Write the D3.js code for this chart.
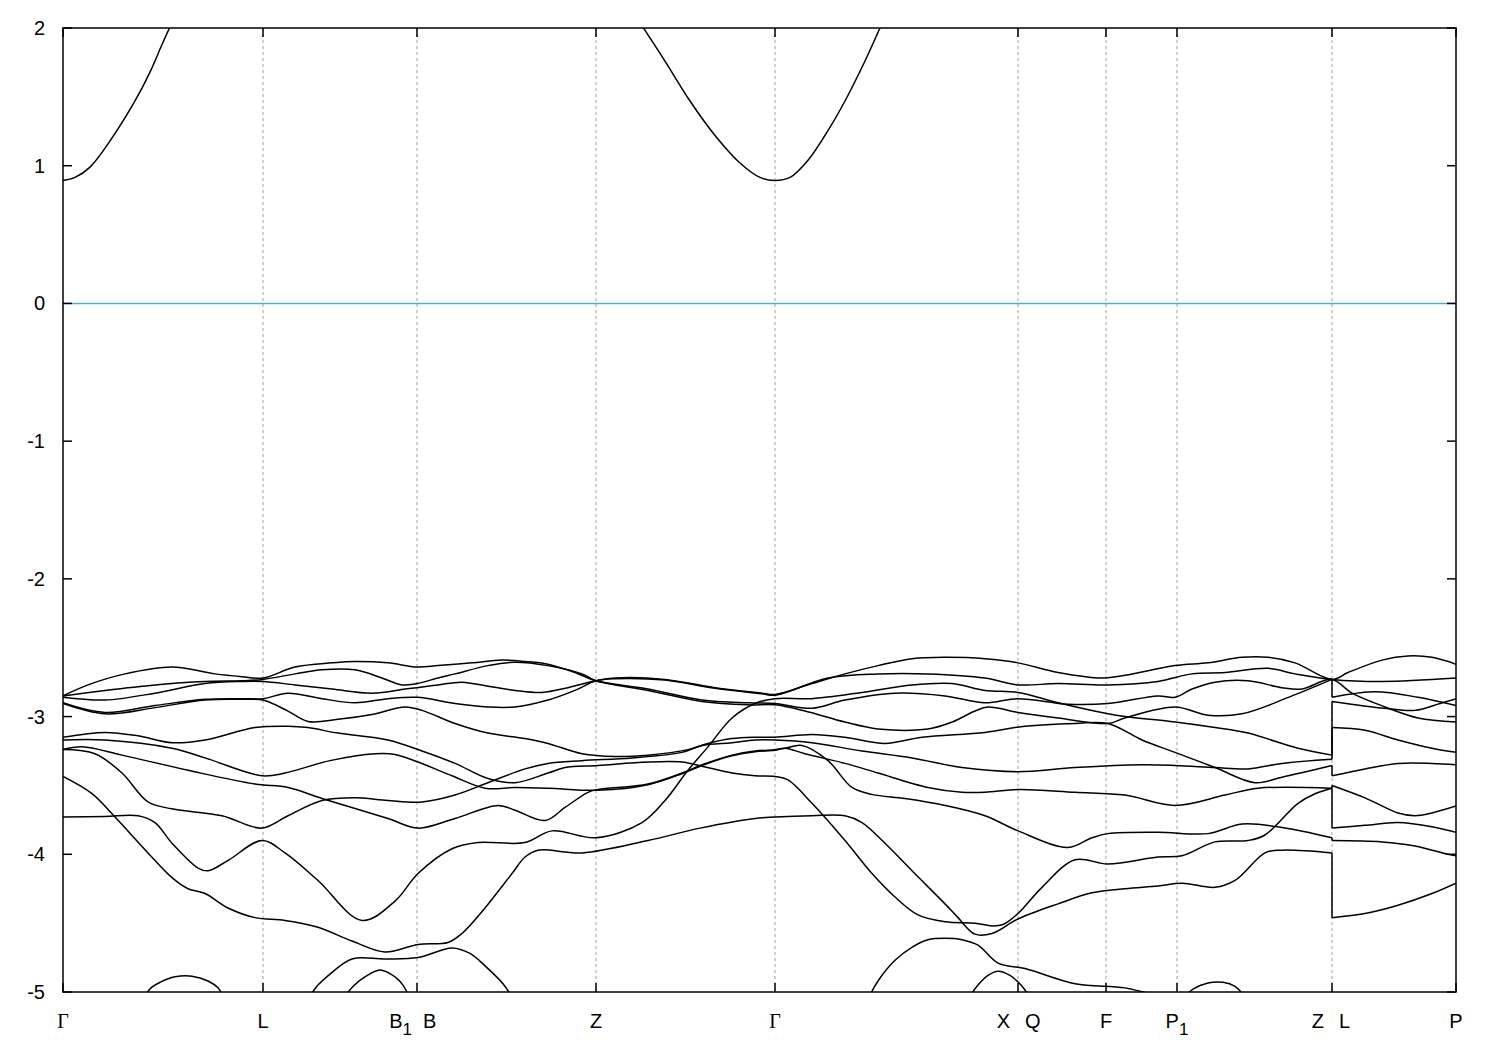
<!DOCTYPE html>
<html><head><meta charset="utf-8">
<script src="https://cdn.jsdelivr.net/npm/d3@7"></script>
<style>
html,body{margin:0;padding:0;background:#fff;}
svg{display:block;}
</style></head>
<body>
<svg id="chart" width="1500" height="1050"></svg>
<script>
// ---- high-symmetry path ----
const kTicks = [0, 200, 354, 533, 712, 955, 1043, 1114, 1269, 1393];
// each label: [left part, left subscript, right part]
const kLabels = [["Γ","",""], ["L","",""], ["B","1","B"], ["Z","",""], ["Γ","",""], ["X","","Q"], ["F","",""], ["P","1",""], ["Z","","L"], ["P","",""]];
const yTicks = [-5, -4, -3, -2, -1, 0, 1, 2];
const fermiLevel = 0;

// ---- conduction bands ----
const cond1 = [[0,0.893],[12,0.915],[27,0.99],[47,1.18],[72,1.47],[87,1.68],[99,1.88],[109,2.04]];
const cond2 = [[575,2.06],[585,1.95],[602,1.76],[627,1.47],[652,1.22],[677,1.02],[697,0.915],[712,0.893],[727,0.915],[745,1.04],[762,1.22],[782,1.47],[802,1.76],[817,2.0],[821,2.06]];

// ---- valence bands ----
const band1 = [[0,-2.85],[25,-2.77],[62,-2.69],[109,-2.64],[152,-2.69],[179,-2.71],[200,-2.72],[232,-2.64],[269,-2.61],[292,-2.60],[325,-2.61],[354,-2.64],[375,-2.63],[409,-2.61],[439,-2.59],[462,-2.60],[485,-2.62],[512,-2.68],[533,-2.74],[585,-2.80],[639,-2.88],[685,-2.90],[712,-2.905],
 [749,-2.94],[782,-2.88],[832,-2.83],[882,-2.85],[922,-2.90],[955,-2.87],[1005,-2.91],[1045,-2.905],[1095,-2.85],[1112,-2.86],[1129,-2.80],[1152,-2.75],[1185,-2.74],[1219,-2.79],[1239,-2.80],[1269,-2.73],
 [1289,-2.83],[1322,-2.93],[1355,-3.01],[1393,-3.04]];
const band2 = [[0,-2.85],[42,-2.81],[92,-2.77],[142,-2.745],[179,-2.74],[200,-2.73],[232,-2.69],[259,-2.66],[292,-2.66],[319,-2.72],[339,-2.77],[354,-2.76],[375,-2.72],[392,-2.69],[425,-2.63],[452,-2.605],[485,-2.63],[519,-2.69],[533,-2.74],[585,-2.81],[639,-2.89],[685,-2.915],[712,-2.915],
 [742,-2.96],[782,-3.04],[815,-3.09],[865,-3.09],[889,-3.04],[912,-2.96],[925,-2.93],[955,-2.97],[995,-3.01],[1045,-3.05],[1062,-3.01],[1112,-2.93],[1145,-2.99],[1179,-2.98],[1229,-2.85],[1269,-2.73],
 [1269,-2.86],[1312,-2.82],[1355,-2.86],[1393,-2.92]];
const band3 = [[0,-2.86],[42,-2.88],[92,-2.83],[142,-2.76],[179,-2.745],[200,-2.745],[232,-2.77],[269,-2.80],[309,-2.83],[342,-2.80],[354,-2.79],[375,-2.77],[399,-2.75],[425,-2.78],[452,-2.81],[479,-2.825],[505,-2.79],[533,-2.74],[552,-2.72],[602,-2.73],[652,-2.79],[699,-2.83],[712,-2.84],
 [749,-2.76],[782,-2.69],[815,-2.63],[849,-2.58],[882,-2.57],[922,-2.58],[955,-2.61],[995,-2.68],[1039,-2.72],[1062,-2.70],[1112,-2.63],[1145,-2.61],[1179,-2.57],[1205,-2.57],[1232,-2.61],[1269,-2.73],
 [1285,-2.68],[1319,-2.59],[1345,-2.56],[1369,-2.57],[1393,-2.62]];
const band4 = [[0,-2.90],[42,-2.97],[92,-2.92],[142,-2.875],[179,-2.87],[200,-2.87],[225,-2.83],[259,-2.87],[292,-2.90],[325,-2.87],[354,-2.86],[392,-2.905],[425,-2.93],[452,-2.93],[485,-2.88],[512,-2.81],[533,-2.74],[552,-2.725],[602,-2.735],[652,-2.795],[699,-2.835],[712,-2.845],
 [765,-2.72],[815,-2.69],[865,-2.69],[922,-2.72],[955,-2.77],[995,-2.76],[1045,-2.77],[1095,-2.745],[1129,-2.69],[1162,-2.68],[1205,-2.65],[1232,-2.69],[1269,-2.73],
 [1319,-2.745],[1393,-2.72]];
const band5 = [[0,-3.73],[42,-3.725],[75,-3.72],[92,-3.77],[109,-3.92],[135,-4.10],[145,-4.12],[165,-4.045],[199,-3.90],[222,-3.99],[255,-4.19],[299,-4.48],[332,-4.34],[355,-4.14],[389,-3.96],[415,-3.915],[462,-3.915],[489,-3.83],[533,-3.88],[579,-3.77],[602,-3.61],[625,-3.39],[645,-3.22],[669,-3.01],[692,-2.905],[712,-2.87],
 [749,-2.87],[799,-2.825],[849,-2.77],[889,-2.76],[922,-2.81],[955,-2.825],[995,-2.90],[1045,-2.98],[1062,-3.00],[1112,-3.04],[1152,-3.08],[1185,-3.12],[1235,-3.23],[1269,-3.28],
 [1269,-2.89],[1322,-2.94],[1352,-2.955],[1377,-2.905],[1393,-2.87]];
const band6 = [[0,-2.905],[42,-2.98],[92,-2.935],[142,-2.88],[179,-2.875],[200,-2.88],[225,-2.96],[245,-3.035],[275,-3.02],[309,-2.985],[342,-2.93],[359,-2.955],[392,-3.05],[425,-3.12],[462,-3.16],[485,-3.195],[519,-3.27],[552,-3.29],[585,-3.28],[625,-3.24],[645,-3.195],[669,-3.16],[692,-3.15],[712,-3.15],
 [749,-3.13],[782,-3.15],[822,-3.195],[859,-3.15],[922,-3.115],[962,-3.07],[1012,-3.05],[1045,-3.05],[1079,-3.17],[1112,-3.26],[1152,-3.37],[1192,-3.48],[1219,-3.44],[1269,-3.355],
 [1269,-3.43],[1302,-3.38],[1335,-3.34],[1369,-3.34],[1393,-3.35]];
const band7 = [[0,-3.24],[32,-3.27],[59,-3.41],[85,-3.62],[109,-3.67],[159,-3.72],[199,-3.81],[225,-3.72],[259,-3.61],[292,-3.59],[325,-3.61],[359,-3.62],[392,-3.57],[425,-3.48],[462,-3.38],[485,-3.34],[519,-3.32],[569,-3.30],[619,-3.26],[639,-3.21],[669,-3.19],[692,-3.17],[712,-3.17],
 [749,-3.19],[799,-3.25],[849,-3.30],[899,-3.37],[955,-3.40],[1012,-3.37],[1079,-3.35],[1112,-3.355],[1152,-3.37],[1185,-3.38],[1219,-3.34],[1269,-3.31],
 [1269,-3.08],[1302,-3.10],[1335,-3.17],[1369,-3.23],[1393,-3.26]];
const band8 = [[0,-3.15],[42,-3.115],[75,-3.14],[109,-3.19],[142,-3.17],[192,-3.08],[225,-3.07],[245,-3.08],[275,-3.12],[325,-3.17],[359,-3.25],[392,-3.34],[425,-3.45],[452,-3.48],[485,-3.41],[502,-3.37],[535,-3.355],[585,-3.33],[619,-3.33],[639,-3.36],[669,-3.41],[692,-3.43],[712,-3.435],
 [725,-3.46],[749,-3.63],[782,-3.90],[809,-4.14],[832,-4.31],[855,-4.44],[882,-4.49],[912,-4.50],[929,-4.52],[940,-4.51],[955,-4.43],[979,-4.24],[1012,-4.04],[1045,-4.07],[1095,-4.02],[1119,-4.01],[1152,-3.91],[1185,-3.90],[1202,-3.86],[1235,-3.63],[1252,-3.56],[1269,-3.52],
 [1269,-3.81],[1302,-3.79],[1335,-3.77],[1369,-3.80],[1393,-3.84]];
const band9 = [[0,-3.24],[19,-3.22],[59,-3.28],[125,-3.39],[192,-3.49],[225,-3.515],[259,-3.595],[325,-3.74],[355,-3.81],[392,-3.74],[435,-3.645],[452,-3.68],[482,-3.755],[502,-3.66],[525,-3.55],[535,-3.53],[585,-3.49],[619,-3.41],[639,-3.35],[669,-3.28],[692,-3.25],[712,-3.24],
 [722,-3.23],[739,-3.21],[765,-3.32],[789,-3.515],[809,-3.565],[842,-3.595],[882,-3.645],[922,-3.72],[955,-3.83],[1005,-3.95],[1029,-3.88],[1045,-3.85],[1095,-3.84],[1145,-3.85],[1179,-3.78],[1219,-3.805],[1269,-3.88],
 [1269,-3.90],[1319,-3.91],[1352,-3.94],[1385,-4.00],[1393,-4.01]];
const band10 = [[0,-3.17],[42,-3.17],[109,-3.23],[142,-3.30],[199,-3.43],[222,-3.41],[267,-3.32],[312,-3.27],[332,-3.275],[355,-3.33],[389,-3.43],[422,-3.52],[452,-3.515],[485,-3.52],[535,-3.535],[585,-3.495],[619,-3.415],[639,-3.355],[669,-3.285],[692,-3.255],[712,-3.245],
 [722,-3.23],[742,-3.27],[782,-3.34],[815,-3.41],[865,-3.515],[899,-3.55],[922,-3.55],[955,-3.53],[1012,-3.55],[1062,-3.57],[1112,-3.645],[1162,-3.57],[1195,-3.52],[1269,-3.52],
 [1269,-3.50],[1302,-3.59],[1335,-3.70],[1352,-3.72],[1369,-3.70],[1393,-3.65]];
const band11 = [[0,-3.435],[29,-3.56],[52,-3.73],[85,-3.99],[109,-4.17],[125,-4.25],[142,-4.285],[165,-4.39],[192,-4.46],[222,-4.48],[255,-4.53],[289,-4.63],[322,-4.71],[355,-4.655],[385,-4.64],[399,-4.575],[422,-4.39],[449,-4.14],[462,-4.02],[475,-3.97],[519,-3.99],[585,-3.90],[637,-3.81],[692,-3.74],[712,-3.73],
 [749,-3.72],[782,-3.72],[799,-3.77],[822,-3.92],[849,-4.12],[882,-4.36],[895,-4.46],[912,-4.58],[929,-4.575],[955,-4.47],[995,-4.36],[1029,-4.28],[1062,-4.25],[1095,-4.23],[1119,-4.21],[1152,-4.24],[1172,-4.19],[1202,-3.99],[1219,-3.97],[1269,-3.99],
 [1269,-4.46],[1302,-4.43],[1335,-4.37],[1369,-4.285],[1393,-4.21]];

// ---- deeper bands entering the window from below ----
const deep1 = [[80,-5.05],[88,-4.97],[97,-4.93],[112,-4.89],[129,-4.885],[145,-4.92],[155,-4.97],[161,-5.05]];
const deep2 = [[245,-5.05],[255,-4.95],[267,-4.87],[289,-4.76],[322,-4.76],[355,-4.75],[389,-4.68],[407,-4.72],[422,-4.81],[440,-4.94],[450,-5.05]];
const deep3 = [[280,-5.05],[290,-4.96],[300,-4.90],[317,-4.84],[332,-4.89],[340,-4.95],[347,-5.05]];
const deep4 = [[805,-5.05],[815,-4.92],[832,-4.77],[850,-4.67],[865,-4.62],[882,-4.61],[899,-4.62],[915,-4.66],[935,-4.79],[962,-4.83],[1012,-4.94],[1062,-4.97],[1090,-5.02]];
const deep5 = [[905,-5.05],[915,-4.95],[925,-4.88],[935,-4.85],[947,-4.88],[958,-4.95],[968,-5.05]];
const deep6 = [[1120,-5.05],[1130,-4.98],[1145,-4.935],[1160,-4.93],[1172,-4.96],[1184,-5.05]];

const allBands = [cond1, cond2, band1, band2, band3, band4, band5, band6, band7, band8, band9, band10, band11, deep1, deep2, deep3, deep4, deep5, deep6];

// ---- drawing ----
const W = 1500, H = 1050;
const margin = {left: 63, right: 44, top: 28, bottom: 58};
const SANS = "'Liberation Sans', Arial, sans-serif";
const SERIF = "'Liberation Serif', 'DejaVu Serif', serif";
const svg = d3.select("#chart");
const x = d3.scaleLinear().domain([0, 1393]).range([margin.left, W - margin.right]);
const y = d3.scaleLinear().domain([-5, 2]).range([H - margin.bottom, margin.top]);
const x0 = x.range()[0], x1 = x.range()[1], y0 = y.range()[0], y1 = y.range()[1];

svg.append("rect").attr("width", W).attr("height", H).attr("fill", "#fff");

svg.append("defs").append("clipPath").attr("id", "plotclip")
  .append("rect").attr("x", x0).attr("y", y1).attr("width", x1 - x0).attr("height", y0 - y1);

// vertical dotted grid lines at interior points
svg.append("g").selectAll("line").data(kTicks.slice(1, -1)).join("line")
  .attr("x1", d => x(d)).attr("x2", d => x(d))
  .attr("y1", y1).attr("y2", y0)
  .attr("stroke", "#a0a0a0").attr("stroke-width", 1).attr("stroke-dasharray", "3,3");

// Fermi level
svg.append("line").attr("x1", x0).attr("x2", x1).attr("y1", y(fermiLevel)).attr("y2", y(fermiLevel))
  .attr("stroke", "#4aaee6").attr("stroke-width", 1.5);

// bands: split at vertical jumps (repeated k)
const g = svg.append("g").attr("clip-path", "url(#plotclip)");
const curve = d3.line().x(d => x(d[0])).y(d => y(d[1])).curve(d3.curveCatmullRom.alpha(0.5));
const straight = d3.line().x(d => x(d[0])).y(d => y(d[1]));
function drawPath(gen, pts) {
  g.append("path").attr("d", gen(pts)).attr("fill", "none").attr("stroke", "#000").attr("stroke-width", 1.5);
}
allBands.forEach(b => {
  let piece = [b[0]];
  for (let i = 1; i < b.length; i++) {
    if (b[i][0] === b[i - 1][0]) {
      if (piece.length > 1) drawPath(curve, piece);
      drawPath(straight, [b[i - 1], b[i]]);
      piece = [b[i]];
    } else piece.push(b[i]);
  }
  if (piece.length > 1) drawPath(curve, piece);
});

// frame
svg.append("rect").attr("x", x0).attr("y", y1).attr("width", x1 - x0).attr("height", y0 - y1)
  .attr("fill", "none").attr("stroke", "#000").attr("stroke-width", 1.5);

// y ticks (left and mirrored right)
const tk = 9;
const yt = svg.append("g");
yTicks.forEach(v => {
  yt.append("line").attr("x1", x0).attr("x2", x0 + tk).attr("y1", y(v)).attr("y2", y(v)).attr("stroke", "#000").attr("stroke-width", 1.5);
  yt.append("line").attr("x1", x1).attr("x2", x1 - tk).attr("y1", y(v)).attr("y2", y(v)).attr("stroke", "#000").attr("stroke-width", 1.5);
  yt.append("text").attr("x", 45).attr("y", y(v)).attr("dy", "0.35em").attr("text-anchor", "end")
    .style("font-family", SANS).attr("font-size", 20).text(v);
});

// x ticks (bottom and top) + labels
const xt = svg.append("g");
kTicks.forEach((k, i) => {
  const px = x(k);
  xt.append("line").attr("x1", px).attr("x2", px).attr("y1", y0).attr("y2", y0 - tk).attr("stroke", "#000").attr("stroke-width", 1.5);
  xt.append("line").attr("x1", px).attr("x2", px).attr("y1", y1).attr("y2", y1 + tk).attr("stroke", "#000").attr("stroke-width", 1.5);
  const [main, sub, right] = kLabels[i];
  const fam = main === "Γ" ? SERIF : SANS;
  if (!right) {
    const t = xt.append("text").attr("x", px).attr("y", 1028).attr("text-anchor", "middle")
      .style("font-family", fam).attr("font-size", 20);
    t.append("tspan").text(main);
    if (sub) t.append("tspan").attr("font-size", 17).attr("dy", 7).text(sub);
  } else {
    const t = xt.append("text").attr("x", px - (sub ? 5 : 8)).attr("y", 1028).attr("text-anchor", "end")
      .style("font-family", fam).attr("font-size", 20);
    t.append("tspan").text(main);
    if (sub) t.append("tspan").attr("font-size", 17).attr("dy", 7).text(sub);
    xt.append("text").attr("x", px + (sub ? 6 : 7)).attr("y", 1028).attr("text-anchor", "start")
      .style("font-family", SANS).attr("font-size", 20).text(right);
  }
});
</script>
</body></html>
